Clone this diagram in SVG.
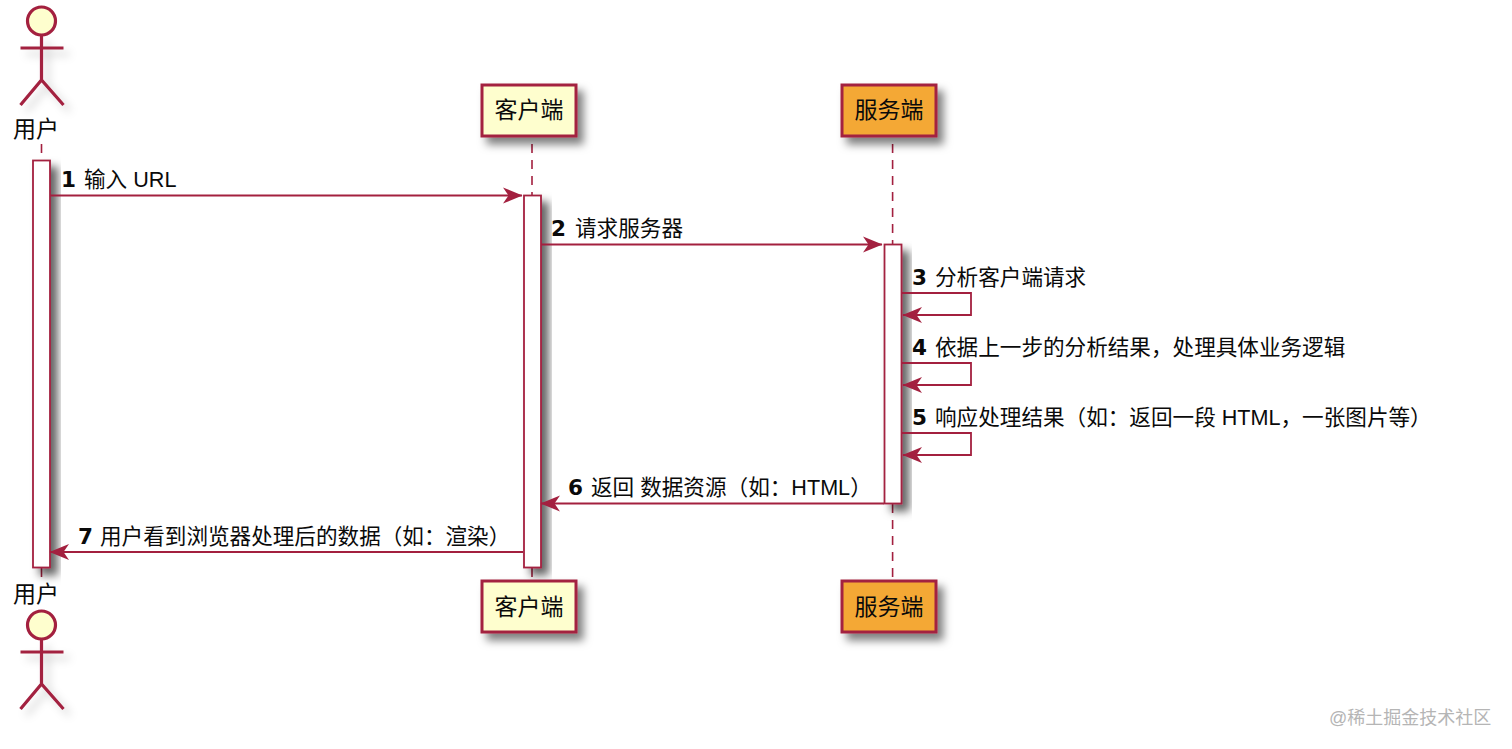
<svg xmlns="http://www.w3.org/2000/svg" width="1512" height="749" viewBox="0 0 1512 749">
<style>
text{font-family:"Liberation Sans","Noto Sans CJK SC",sans-serif;fill:#0a0a0a}
.m{font-size:21.6px}
.n{font-size:21.5px;font-weight:bold;font-family:"DejaVu Sans",sans-serif}
.t{font-size:23px;text-anchor:middle}
.d{stroke:#a3203f;stroke-width:1.6;fill:none;stroke-dasharray:9 7}
.a{stroke:#a3203f;stroke-width:1.8;fill:none;stroke-linejoin:miter}
.act{fill:#fff;stroke:#a3203f;stroke-width:1.8;filter:url(#s)}
.box{stroke:#a3203f;stroke-width:3;filter:url(#sb)}
.fig{stroke:#a3203f;stroke-width:3.2;fill:none;filter:url(#s2)}
</style>
<defs>
<filter id="s" x="-60%" y="-10%" width="220%" height="130%"><feDropShadow dx="7" dy="7" stdDeviation="4" flood-color="#000" flood-opacity=".6"/></filter>
<filter id="sb" x="-20%" y="-30%" width="150%" height="180%"><feDropShadow dx="6" dy="7" stdDeviation="4.500" flood-color="#000" flood-opacity=".5"/></filter>
<filter id="s2" x="-40%" y="-20%" width="200%" height="150%"><feDropShadow dx="6" dy="6" stdDeviation="4" flood-color="#000" flood-opacity=".2"/></filter>
<marker id="ar" viewBox="0 0 20 18" refX="19" refY="9" markerWidth="20" markerHeight="18" markerUnits="userSpaceOnUse" orient="auto"><path d="M0 1L19.500 9L0 17L5.500 9Z" fill="#a3203f"/></marker>
<g id="actor-shape"><circle cx="0" cy="0" r="14" fill="#fefece" stroke="#a3203f" stroke-width="3.2"/><path d="M0 14V59M-21 27H22M-21 84L0 59L22 84" class="fig"/></g>
</defs>
<rect width="1512" height="749" fill="#fff"/>
<g id="lifelines">
<path class="d" d="M41.500 144V160"/><path class="d" d="M41.500 568V577"/>
<path class="d" d="M532 144V195"/><path class="d" d="M532 568V580"/>
<path class="d" d="M892.600 144V244"/><path class="d" d="M892.600 504V580"/>
</g>
<g id="activations">
<rect class="act" x="33" y="160.500" width="17" height="407"/>
<rect class="act" x="524" y="195.500" width="17" height="372"/>
<rect class="act" x="884.500" y="244.500" width="17" height="259"/>
</g>
<g id="connectors">
<path class="a" marker-end="url(#ar)" d="M50 195.500H522"/>
<path class="a" marker-end="url(#ar)" d="M541 244.500H882"/>
<path class="a" marker-end="url(#ar)" d="M902 293H971V315H903"/>
<path class="a" marker-end="url(#ar)" d="M902 363H971V385H903"/>
<path class="a" marker-end="url(#ar)" d="M902 433H971V455H903"/>
<path class="a" marker-end="url(#ar)" d="M884 503.500H541"/>
<path class="a" marker-end="url(#ar)" d="M523 552H50"/>
</g>
<g id="user-top"><use href="#actor-shape" x="41.500" y="21"/><text class="t" x="36" y="137">用户</text></g>
<g id="user-bottom"><use href="#actor-shape" x="41.500" y="625"/><text class="t" x="36" y="602">用户</text></g>
<g id="client-top"><rect class="box" x="482" y="85" width="94" height="51" fill="#fefece"/><text class="t" x="529" y="118">客户端</text></g>
<g id="client-bottom"><rect class="box" x="482" y="581" width="94" height="51" fill="#fefece"/><text class="t" x="529" y="615">客户端</text></g>
<g id="server-top"><rect class="box" x="842" y="85" width="94" height="51" fill="#f4a836"/><text class="t" x="889" y="118">服务端</text></g>
<g id="server-bottom"><rect class="box" x="842" y="581" width="94" height="51" fill="#f4a836"/><text class="t" x="889" y="615">服务端</text></g>
<g id="labels">
<text class="n" x="61" y="187">1</text><text class="m" x="84" y="187">输入 URL</text>
<text class="n" x="551" y="236">2</text><text class="m" x="575" y="236">请求服务器</text>
<text class="n" x="912" y="285">3</text><text class="m" x="935" y="285">分析客户端请求</text>
<text class="n" x="912" y="355">4</text><text class="m" x="935" y="355">依据上一步的分析结果，处理具体业务逻辑</text>
<text class="n" x="912" y="425">5</text><text class="m" x="935" y="425">响应处理结果（如：返回一段 HTML，一张图片等）</text>
<text class="n" x="568" y="495">6</text><text class="m" x="591" y="495">返回 数据资源（如：HTML）</text>
<text class="n" x="78" y="544">7</text><text class="m" x="100" y="544">用户看到浏览器处理后的数据（如：渲染）</text>
</g>
<text x="1329" y="724" style="font-size:18px;fill:#b5b5b5">@稀土掘金技术社区</text>
</svg>
